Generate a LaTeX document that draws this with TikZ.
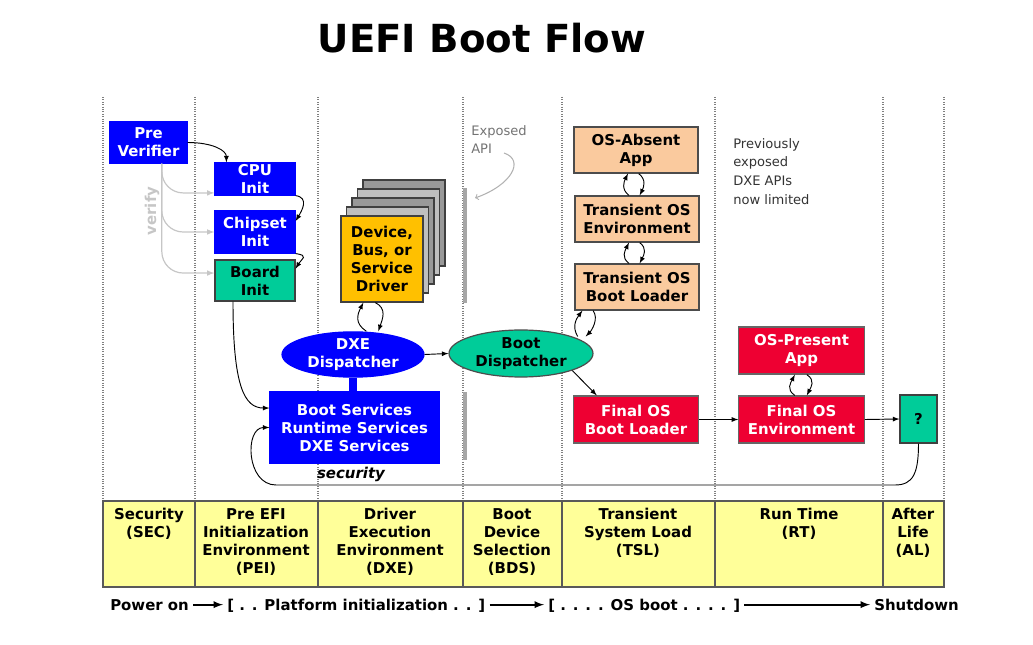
\documentclass[tikz,border=0pt]{standalone}
\usepackage{fontspec}
\setmainfont{DejaVu Sans}
\newfontfamily\handfont{DejaVu Sans}
\usepackage{tikz}
\usetikzlibrary{arrows,shapes.geometric}

\definecolor{uefiblue}{RGB}{0,0,255}
\definecolor{uefigreen}{RGB}{0,204,153}
\definecolor{uefigold}{RGB}{255,192,0}
\definecolor{uefipeach}{RGB}{250,202,158}
\definecolor{uefired}{RGB}{238,0,50}
\definecolor{uefiband}{RGB}{255,255,153}
\newcommand\uefibf{\fontsize{11.2}{13.5}\selectfont\bfseries}

\begin{document}
\begin{tikzpicture}[x=0.75pt,y=-0.75pt,
	lane/.style={gray,densely dotted,line width=0.8pt},
	blk/.style={rectangle,inner sep=0pt,align=center,font=\uefibf,line width=0.9pt},
	bluebox/.style={blk,draw=uefiblue,fill=uefiblue,text=white},
	greenbox/.style={blk,draw=black!75,fill=uefigreen},
	peachbox/.style={blk,draw=black!70,fill=uefipeach,minimum width=93pt,minimum height=34.5pt},
	redbox/.style={blk,draw=black!60,fill=uefired,text=white,minimum width=94pt,minimum height=35.25pt},
	card/.style={blk,draw=black!75,minimum width=61.5pt,minimum height=64.5pt},
	disp/.style={ellipse,inner sep=0pt,align=center,font=\uefibf,draw=black!70,line width=0.9pt},
	flow/.style={-latex,line width=0.7pt},
	vfy/.style={-latex,gray!45,line width=0.9pt,rounded corners=16pt},
	stage/.style={-latex,line width=1.4pt,shorten <=3pt,shorten >=3pt},
	phase/.style={anchor=north,inner sep=0pt,align=center,font=\uefibf},
	note/.style={align=left,inner sep=0pt,font=\handfont\fontsize{9.8}{14}\selectfont}]
		\useasboundingbox (0,0) rectangle (1033,645);
%		\draw[help lines,step=50] (0,0) grid (1033,645);
		\path (482,38) node(title) [font=\fontsize{29}{34}\selectfont\bfseries] {UEFI Boot Flow};

		% lanes and phase band
		\foreach \x in {103,195,318,463,562,715,883,944}
			\draw[lane] (\x,97) -- (\x,501);
		\draw[draw=black!65,fill=uefiband,line width=0.8pt] (103,501) rectangle (944,587);
		\foreach \x in {195,318,463,562,715,883}
			\draw[black!65,line width=0.8pt] (\x,501) -- (\x,587);
		\path (149,508) node(sec) [phase] {Security\\(SEC)};
		\path (256,508) node(pei) [phase] {Pre EFI\\Initialization\\Environment\\(PEI)};
		\path (390,508) node(dxe) [phase] {Driver\\Execution\\Environment\\(DXE)};
		\path (512,508) node(bds) [phase] {Boot\\Device\\Selection\\(BDS)};
		\path (638,508) node(tsl) [phase] {Transient\\System Load\\(TSL)};
		\path (799,508) node(rt) [phase] {Run Time\\(RT)};
		\path (913,508) node(al) [phase] {After\\Life\\(AL)};

		% SEC / PEI
		\path (148.5,142.5) node(preverifier) [bluebox,minimum width=57.75pt,minimum height=30.75pt] {Pre\\Verifier};
		\path (255,179) node(cpuinit) [bluebox,minimum width=60pt,minimum height=24pt] {CPU\\Init};
		\path (255,232) node(chipsetinit) [bluebox,minimum width=60pt,minimum height=31.5pt] {Chipset\\Init};
		\path (255,280.5) node(boardinit) [greenbox,minimum width=60pt,minimum height=30.75pt] {Board\\Init};
		\path (152,211) node(verifytxt) [rotate=90,text=gray!45,font=\uefibf] {verify};

		% DXE
		\foreach \k/\shade in {4/black!40,3/black!25,2/black!40,1/black!25}
			\path ({382+5.5*\k},{259-9*\k}) node(card\k) [card,fill=\shade] {};
		\path (382,259) node(driver) [card,fill=uefigold] {Device,\\Bus, or\\Service\\Driver};
		\path (353,354.5) node(dxedisp) [disp,draw=uefiblue,fill=uefiblue,text=white,minimum width=106.5pt,minimum height=33.75pt] {DXE\\Dispatcher};
		\path (354.5,427.5) node(bootsvc) [bluebox,minimum width=126.75pt,minimum height=53.25pt] {Boot Services\\Runtime Services\\DXE Services};
		\draw[uefiblue,line width=6pt] (dxedisp.south) -- (dxedisp.south |- bootsvc.north);
		\path (351,474) node(security) [font=\uefibf\itshape] {security};

		% BDS
		\path (465,245.5) node(apibar) [fill=gray!70,inner sep=0pt,minimum width=2.5pt,minimum height=86pt] {};
		\path (465,426) node(apibar2) [fill=gray!70,inner sep=0pt,minimum width=2.5pt,minimum height=51pt] {};
		\path (471,125) node(exposed) [note,anchor=north west,text=black!55] {Exposed\\API};
		\path (521,353.5) node(bootdisp) [disp,fill=uefigreen,minimum width=108pt,minimum height=35.25pt] {Boot\\Dispatcher};

		% TSL
		\path (636,150) node(osabsent) [peachbox] {OS-Absent\\App};
		\path (637,219) node(transenv) [peachbox] {Transient OS\\Environment};
		\path (637,287) node(transbl) [peachbox] {Transient OS\\Boot Loader};
		\path (636,419.5) node(osbl) [redbox] {Final OS\\Boot Loader};

		% RT / AL
		\path (733,138) node(prevnote) [note,anchor=north west,text=black!80] {Previously\\exposed\\DXE APIs\\now limited};
		\path (801.5,350.5) node(ospresent) [redbox] {OS-Present\\App};
		\path (801.5,419.5) node(osenv) [redbox] {Final OS\\Environment};
		\path (918.5,419) node(afterlife) [greenbox,minimum width=27.75pt,minimum height=36pt] {?};

		% connectors
		\draw[flow] (preverifier.east) .. controls +(25,0) and +(0,-12) .. ([xshift=9pt]cpuinit.north west);
		\draw[flow] (cpuinit.south east) .. controls +(14,2) and +(6,-10) .. ([yshift=-8pt]chipsetinit.north east);
		\draw[flow] (chipsetinit.south east) .. controls +(14,2) and +(6,-10) .. ([yshift=-7pt]boardinit.north east);
		\draw[vfy] ([xshift=10pt]preverifier.south) |- ([yshift=2pt]cpuinit.south west);
		\draw[vfy] ([xshift=10pt]preverifier.south) |- (chipsetinit.west);
		\draw[vfy] ([xshift=10pt]preverifier.south) |- ([yshift=5.6pt]boardinit.west);
		\draw[flow] ([xshift=-16.5pt]boardinit.south) .. controls +(0,85) and +(-25,0) .. ([yshift=14.6pt]bootsvc.west);

		\draw[flow] ([xshift=10pt]dxedisp.north) .. controls +(-12,-8) and +(-6,12) .. ([xshift=-14pt]driver.south);
		\draw[flow] ([xshift=-5pt]driver.south) .. controls +(12,6) and +(4,-12) .. ([xshift=19pt]dxedisp.north);
		\draw[flow] (dxedisp.east) -- (bootdisp.west);

		\coordinate (apitail) at (504,153);
		\coordinate (apihead) at (475,198);
		\draw[gray!60,line width=0.8pt,-to] (apitail) .. controls (525,160) and (512,185) .. (apihead);

		\draw[flow] ([xshift=-6pt]transenv.north) .. controls +(-8,-6) and +(-4,8) .. ([xshift=-6pt]osabsent.south);
		\draw[flow] ([xshift=2pt]osabsent.south) .. controls +(8,6) and +(4,-8) .. ([xshift=2pt]transenv.north);
		\draw[flow] ([xshift=-6pt]transbl.north) .. controls +(-8,-6) and +(-4,8) .. ([xshift=-6pt]transenv.south);
		\draw[flow] ([xshift=2pt]transenv.south) .. controls +(8,6) and +(4,-8) .. ([xshift=2pt]transbl.north);
		\draw[flow] ([xshift=4pt]bootdisp.north east) .. controls +(-6,-10) and +(-6,8) .. ([xshift=6pt]transbl.south west);
		\draw[flow] ([xshift=14pt]transbl.south west) .. controls +(6,8) and +(6,-6) .. ([xshift=10pt]bootdisp.north east);

		\draw[flow] (bootdisp.south east) -- ([xshift=18pt]osbl.north west);
		\draw[flow] (osbl.east) -- (osenv.west);
		\draw[flow] ([xshift=-5pt]osenv.north) .. controls +(-9,-6) and +(-4,8) .. ([xshift=-5pt]ospresent.south);
		\draw[flow] ([xshift=4pt]ospresent.south) .. controls +(9,6) and +(4,-8) .. ([xshift=4pt]osenv.north);
		\draw[flow] (osenv.east) -- (afterlife.west);

		\coordinate (secright) at (895,485);
		\coordinate (secleft) at (276,485);
		\draw[flow] (afterlife.south) .. controls +(0,30) and +(18,0) .. (secright) -- (secleft) .. controls +(-30,0) and +(-25,0) .. (bootsvc.west);

		% time line
		\path (110,610) node(poweron) [anchor=base west,inner sep=0pt,font=\uefibf] {Power on};
		\path (227,610) node(platinit) [anchor=base west,inner sep=0pt,font=\uefibf] {[ . . Platform initialization . . ]};
		\path (548,610) node(osboot) [anchor=base west,inner sep=0pt,font=\uefibf] {[ . . . . OS boot . . . . ]};
		\path (874,610) node(shutdown) [anchor=base west,inner sep=0pt,font=\uefibf] {Shutdown};
		\draw[stage] (poweron.east) -- (poweron.east -| platinit.west);
		\draw[stage] (poweron.east -| platinit.east) -- (poweron.east -| osboot.west);
		\draw[stage] (poweron.east -| osboot.east) -- (poweron.east -| shutdown.west);
\end{tikzpicture}
\end{document}
